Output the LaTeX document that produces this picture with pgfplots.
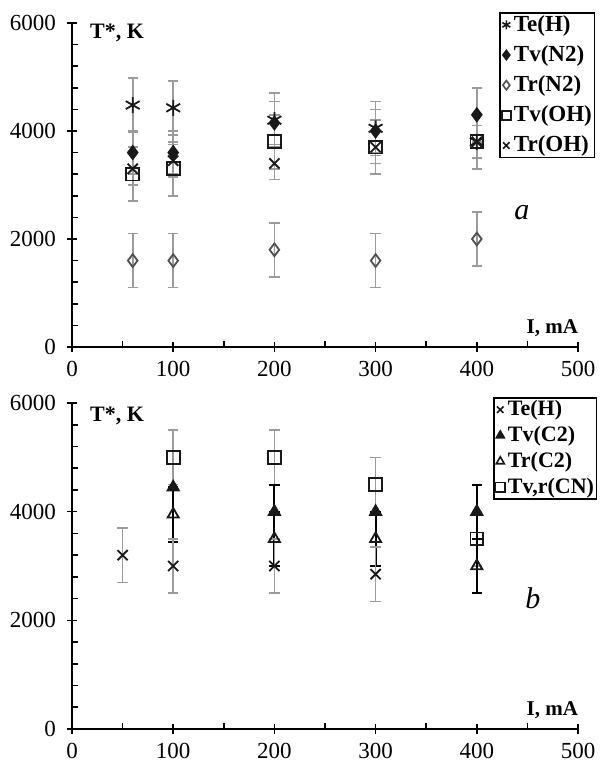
\documentclass[border=0pt]{standalone}
\usepackage{fontspec}
\setmainfont{Liberation Serif}
\usepackage{pgfplots}
\usepackage{pgfplotstable}
\pgfplotsset{compat=1.18}
\definecolor{errc}{RGB}{155,155,155}
\definecolor{markc}{RGB}{25,25,25}
\definecolor{openc}{RGB}{80,80,80}

% panel a: x = current (mA), y = temperature (K), e = error
\pgfplotstableread{
x y e
60 4480 500
100 4430 500
200 4200 500
300 4050 500
400 3800 500
}\aTeH
\pgfplotstableread{
x y e
60 3600 400
100 3600 400
200 4150 400
300 4000 400
400 4300 500
}\aTvN
\pgfplotstableread{
x y e
60 1600 500
100 1600 500
200 1800 500
300 1600 500
400 2000 500
}\aTrN
\pgfplotstableread{
x y e
60 3200 500
100 3300 500
200 3800 500
300 3700 500
400 3800 500
}\aTvOH
\pgfplotstableread{
x y e
60 3300 300
100 3450 300
200 3400 300
300 3700 300
400 3800 300
}\aTrOH

% panel b
\pgfplotstableread{
x y e
50 3200 500
100 3000 500
200 3000 500
300 2850 500
}\bTeH
\pgfplotstableread{
x y e
100 4450 0
200 4000 500
300 4000 0
400 4000 500
}\bTvC
\pgfplotstableread{
x y e
100 3950 500
200 3500 500
300 3500 500
400 3000 500
}\bTrC
\pgfplotstableread{
x y e
100 5000 500
200 5000 500
300 4500 500
400 3500 500
}\bCN

\pgfplotsset{
  panel/.style={
    scale only axis, width=253pt,
    xmin=0, xmax=500, ymin=0, ymax=6000,
    axis lines=left, axis line style={-, black, line width=0.8pt},
    xtick={0,100,...,500}, ytick={0,2000,4000,6000},
    minor x tick num=1, minor y tick num=4,
    tick align=center, major tick length=5pt, minor tick length=3pt,
    tick style={black, line width=0.8pt},
    minor x tick style={yshift=1.5pt}, minor y tick style={xshift=1.5pt},
    scaled ticks=false,
    /pgf/number format/1000 sep={},
    /pgf/number format/assume math mode=true,
    ticklabel style={font=\fontsize{11.5}{13}\selectfont},
    yticklabel style={xshift=-2pt},
    xticklabel style={yshift=-1pt},
    clip=false,
    legend cell align=left,
    legend image code/.code={\path (0cm,0cm) (0.17cm,0cm);
      \draw[mark size=2.3pt, line width=0.8pt] plot coordinates {(0.07cm,0cm)};},
  },
  errs/.style={only marks, mark size=3.2pt, line width=0.9pt,
    error bars/y dir=both, error bars/y explicit,
    error bars/error bar style={errc, line width=0.8pt},
    error bars/error mark options={errc, rotate=90, mark size=2.6pt, line width=0.8pt}},
  blackerrs/.style={only marks, mark size=3.2pt, line width=0.9pt,
    error bars/y dir=both, error bars/y explicit,
    error bars/error bar style={black, line width=1pt},
    error bars/error mark options={black, rotate=90, mark size=2.6pt, line width=1pt}},
}

\begin{document}
\begin{tikzpicture}
\useasboundingbox (0,0) rectangle (300pt,382.5pt);

% ---- panel a
\begin{axis}[panel, at={(36pt,209pt)}, anchor=south west, height=162pt,
  legend style={at={(rel axis cs:0.844,1.034)}, anchor=north west,
    draw=black, line width=0.8pt, inner sep=0.8pt, row sep=4.6pt,
    font=\bfseries\fontsize{11.5}{13}\selectfont,
    nodes={inner sep=0.5pt}},
]
  \addplot[errs, mark=asterisk, mark size=4pt, markc] table[x=x, y=y, y error=e] {\aTeH};
  \addlegendentry{Te(H)}
  \addplot[errs, mark=diamond*, markc, mark options={fill=markc}] table[x=x, y=y, y error=e] {\aTvN};
  \addlegendentry{Tv(N2)}
  \addplot[errs, mark=diamond, openc] table[x=x, y=y, y error=e] {\aTrN};
  \addlegendentry{Tr(N2)}
  \addplot[errs, mark=square, markc] table[x=x, y=y, y error=e] {\aTvOH};
  \addlegendentry{Tv(OH)}
  \addplot[errs, mark=x, mark size=3.6pt, markc] table[x=x, y=y, y error=e] {\aTrOH};
  \addlegendentry{Tr(OH)}
  \node[anchor=west, font=\bfseries\fontsize{11}{13}\selectfont] at (rel axis cs:0.022,0.969) {T*, K};
  \node[anchor=east, font=\bfseries\fontsize{10.5}{12}\selectfont] at (rel axis cs:1.014,0.059) {I, mA};
  \node[font=\itshape\fontsize{15}{18}\selectfont] at (rel axis cs:0.889,0.414) {a};
\end{axis}

% ---- panel b
\begin{axis}[panel, at={(36pt,18pt)}, anchor=south west, height=163pt,
  legend style={at={(rel axis cs:0.832,1.018)}, anchor=north west,
    draw=black, line width=0.8pt, inner sep=0.8pt, row sep=2.8pt,
    font=\bfseries\fontsize{11}{12.5}\selectfont,
    nodes={inner sep=0.5pt}},
]
  \addplot[errs, mark=square, markc, forget plot] table[x=x, y=y, y error=e] {\bCN};
  \addplot[blackerrs, mark=triangle, markc, forget plot] table[x=x, y=y, y error=e] {\bTrC};
  \addplot[blackerrs, mark=triangle*, markc, mark options={fill=markc}, forget plot] table[x=x, y=y, y error=e] {\bTvC};
  \addplot[errs, mark=x, mark size=3.6pt, markc] table[x=x, y=y, y error=e] {\bTeH};
  \addlegendentry{Te(H)}
  \addlegendimage{only marks, mark=triangle*, markc, mark options={fill=markc}}
  \addlegendentry{Tv(C2)}
  \addlegendimage{only marks, mark=triangle, markc}
  \addlegendentry{Tr(C2)}
  \addlegendimage{only marks, mark=square, markc}
  \addlegendentry{Tv,r(CN)}
  \node[anchor=west, font=\bfseries\fontsize{11}{13}\selectfont] at (rel axis cs:0.022,0.96) {T*, K};
  \node[anchor=east, font=\bfseries\fontsize{10.5}{12}\selectfont] at (rel axis cs:1.014,0.058) {I, mA};
  \node[font=\itshape\fontsize{15}{18}\selectfont] at (rel axis cs:0.911,0.40) {b};
\end{axis}
\end{tikzpicture}
\end{document}
